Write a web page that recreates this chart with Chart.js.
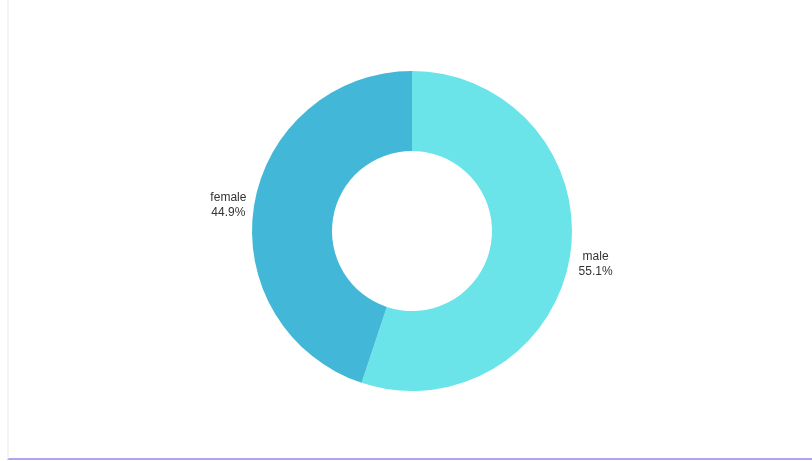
<!DOCTYPE html>
<html>
<head>
<meta charset="utf-8">
<script src="https://cdn.jsdelivr.net/npm/chart.js@4"></script>
<style>
  html, body { margin: 0; padding: 0; background: #fff; }
  #wrap { position: absolute; left: 7px; top: 0; width: 805px; height: 460px;
          border-left: 2px solid #f4f4f4; border-bottom: 2px solid #b0a4f2; box-sizing: border-box; }
  canvas { position: absolute; left: 0; top: 0; }
</style>
</head>
<body>
<div id="wrap"><canvas id="genderChart" width="803" height="456"></canvas></div>
<script>
let labels = ['male', 'female'];
let values = [55.1, 44.9];
let colors = ['#6ae4e9', '#43b7d7'];

// draws "name / pct%" outside each slice
const outsideLabels = {
  id: 'outsideLabels',
  afterDatasetsDraw(chart) {
    const ctx = chart.ctx;
    const meta = chart.getDatasetMeta(0);
    ctx.save();
    ctx.font = '12px "Liberation Sans", Arial, sans-serif';
    ctx.fillStyle = '#333';
    ctx.textAlign = 'center';
    ctx.textBaseline = 'middle';
    meta.data.forEach((arc, i) => {
      const p = arc.getProps(['x', 'y', 'startAngle', 'endAngle', 'outerRadius']);
      const mid = (p.startAngle + p.endAngle) / 2;
      const r = p.outerRadius + 26;
      const x = p.x + Math.cos(mid) * r;
      const y = p.y + Math.sin(mid) * r + 3;
      ctx.fillText(labels[i], x, y - 7);
      ctx.fillText(values[i].toFixed(1) + '%', x, y + 8);
    });
    ctx.restore();
  }
};

new Chart(document.getElementById('genderChart').getContext('2d'), {
  type: 'doughnut',
  data: {
    labels: labels,
    datasets: [{
      data: values,
      backgroundColor: colors,
      borderWidth: 0
    }]
  },
  options: {
    responsive: false,
    animation: false,
    cutout: '50%',
    layout: { padding: { left: 243, right: 240, top: 71, bottom: 65 } },
    plugins: {
      legend: { display: false },
      tooltip: { enabled: false }
    }
  },
  plugins: [outsideLabels]
});
</script>
</body>
</html>
